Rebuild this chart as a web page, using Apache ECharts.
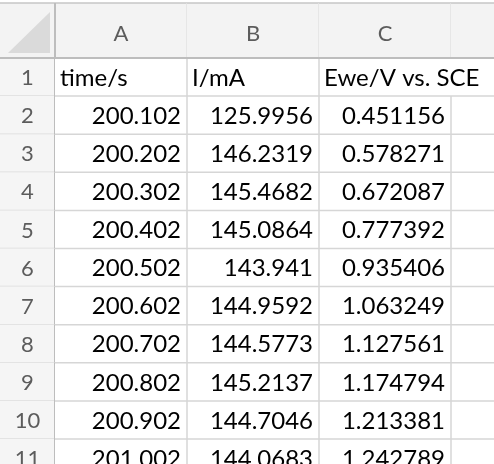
<!DOCTYPE html>
<html>
<head>
<meta charset="utf-8">
<script src="https://cdn.jsdelivr.net/npm/echarts@6/dist/echarts.min.js"></script>
<style>
html, body { margin: 0; padding: 0; background: #fff; }
#sheet { width: 494px; height: 464px; }
</style>
</head>
<body>
<div id="sheet"></div>
<script>
// 列字母、行号
var colLetters = ['A', 'B', 'C', 'D'];
var rowNumbers = ['1', '2', '3', '4', '5', '6', '7', '8', '9', '10', '11'];
// 第1行表头
var headerTexts = ['time/s', 'I/mA', 'Ewe/V vs. SCE'];
// 数据列
var timeS = [200.102, 200.202, 200.302, 200.402, 200.502, 200.602, 200.702, 200.802, 200.902, 201.002];
var currentMA = [125.9956, 146.2319, 145.4682, 145.0864, 143.941, 144.9592, 144.5773, 145.2137, 144.7046, 144.0683];
var eweV = [0.451156, 0.578271, 0.672087, 0.777392, 0.935406, 1.063249, 1.127561, 1.174794, 1.213381, 1.242789];

var cellFont = '24px Lato';
var labelFont = '22px Lato';
var colW = 132, rowH = 38.1, headH = 55, numW = 55, topY = 3;

// 量文字宽度，用来判断文字是否溢出到右边的空单元格
var measureCtx = document.createElement('canvas').getContext('2d');
measureCtx.font = cellFont;

var dataCols = [timeS, currentMA, eweV];
var cellList = [];
for (var r = 0; r < rowNumbers.length; r++) {
    for (var c = 0; c < colLetters.length; c++) {
        var text = '', isNum = false;
        if (r === 0) {
            text = headerTexts[c] || '';
        } else if (c < dataCols.length && dataCols[c][r - 1] !== undefined) {
            text = String(dataCols[c][r - 1]);
            isNum = true;
        }
        cellList.push({ c: c, r: r, text: text, isNum: isNum, hideRight: false });
    }
}
// 左对齐文字溢出时，去掉右边框
cellList.forEach(function (cell, i) {
    if (cell.text && !cell.isNum) {
        var next = cellList[i + 1];
        if (next && next.r === cell.r && !next.text &&
            measureCtx.measureText(cell.text).width + 6 > colW) {
            cell.hideRight = true;
        }
    }
});

function cellBox(api, c, r) {
    var center = api.coord([c, r]);
    var size = api.size([1, 1]);
    return { x: center[0] - size[0] / 2, y: center[1] - size[1] / 2, w: size[0], h: size[1] };
}

// 数据单元格
function renderCell(params, api) {
    var cell = cellList[params.dataIndex];
    var b = cellBox(api, cell.c, cell.r);
    var children = [
        { type: 'rect', shape: { x: b.x, y: b.y, width: b.w, height: b.h }, style: { fill: '#fff' }, z2: 0 },
        { type: 'line', shape: { x1: b.x, y1: b.y + b.h, x2: b.x + b.w, y2: b.y + b.h }, style: { stroke: '#d6d6d6', lineWidth: 1.5 }, z2: 1 }
    ];
    if (!cell.hideRight) {
        children.push({ type: 'line', shape: { x1: b.x + b.w, y1: b.y, x2: b.x + b.w, y2: b.y + b.h }, style: { stroke: '#d6d6d6', lineWidth: 1.5 }, z2: 1 });
    }
    if (cell.text) {
        children.push({
            type: 'text', z2: 5,
            style: {
                text: cell.text,
                x: cell.isNum ? b.x + b.w - 6 : b.x + 5,
                y: b.y + b.h / 2 + 1,
                align: cell.isNum ? 'right' : 'left',
                verticalAlign: 'middle',
                font: cellFont,
                fill: '#000'
            }
        });
    }
    return { type: 'group', children: children };
}

// 行号
function renderRowNum(params, api) {
    var r = api.value(1);
    var b = cellBox(api, 0, r);
    return {
        type: 'group', children: [
            { type: 'rect', shape: { x: b.x, y: b.y, width: b.w, height: b.h }, style: { fill: '#f5f5f5' } },
            { type: 'line', shape: { x1: b.x, y1: b.y + b.h, x2: b.x + b.w, y2: b.y + b.h }, style: { stroke: '#dcdcdc', lineWidth: 1.5 } },
            { type: 'line', shape: { x1: b.x + b.w, y1: b.y, x2: b.x + b.w, y2: b.y + b.h }, style: { stroke: '#bdbdbd', lineWidth: 2 } },
            { type: 'text', style: { text: rowNumbers[r], x: b.x + b.w / 2, y: b.y + b.h / 2 + 1, align: 'center', verticalAlign: 'middle', font: labelFont, fill: '#5c5c5c' } }
        ]
    };
}

// 列字母
function renderColHead(params, api) {
    var c = api.value(0);
    var b = cellBox(api, c, 0);
    return {
        type: 'group', children: [
            { type: 'rect', shape: { x: b.x, y: b.y, width: b.w, height: b.h }, style: { fill: '#f3f3f3' } },
            { type: 'line', shape: { x1: b.x, y1: b.y, x2: b.x + b.w, y2: b.y }, style: { stroke: '#c6c6c6', lineWidth: 1.5 } },
            { type: 'line', shape: { x1: b.x + b.w, y1: b.y, x2: b.x + b.w, y2: b.y + b.h }, style: { stroke: '#e2e2e2', lineWidth: 1.5 } },
            { type: 'line', shape: { x1: b.x, y1: b.y + b.h, x2: b.x + b.w, y2: b.y + b.h }, style: { stroke: '#bdbdbd', lineWidth: 2 } },
            { type: 'text', style: { text: colLetters[c], x: b.x + b.w / 2, y: b.y + b.h / 2 + 3, align: 'center', verticalAlign: 'middle', font: labelFont, fill: '#5c5c5c' } }
        ]
    };
}

// 左上角
function renderCorner(params, api) {
    var b = cellBox(api, 0, 0);
    return {
        type: 'group', children: [
            { type: 'rect', shape: { x: b.x, y: b.y, width: b.w, height: b.h }, style: { fill: '#f3f3f3' } },
            { type: 'line', shape: { x1: b.x, y1: b.y, x2: b.x + b.w, y2: b.y }, style: { stroke: '#c6c6c6', lineWidth: 1.5 } },
            { type: 'polygon', shape: { points: [[b.x + 8, b.y + b.h - 5], [b.x + b.w - 5, b.y + b.h - 5], [b.x + b.w - 5, b.y + 9]] }, style: { fill: '#dadada' } },
            { type: 'line', shape: { x1: b.x + b.w, y1: b.y, x2: b.x + b.w, y2: b.y + b.h }, style: { stroke: '#bdbdbd', lineWidth: 2 } },
            { type: 'line', shape: { x1: b.x, y1: b.y + b.h, x2: b.x + b.w, y2: b.y + b.h }, style: { stroke: '#bdbdbd', lineWidth: 2 } }
        ]
    };
}

// 用数值轴当单元格坐标，窗口外的部分截掉
function cellAxis(idx, visibleCells, inverse) {
    return { type: 'value', gridIndex: idx, min: -0.5, max: -0.5 + visibleCells, inverse: !!inverse, show: false, splitLine: { show: false } };
}

var chart = echarts.init(document.getElementById('sheet'));
var W = chart.getWidth(), H = chart.getHeight();
var visCols = (W - numW) / colW;
var visRows = (H - topY - headH) / rowH;

var option = {
    animation: false,
    grid: [
        { left: numW, top: topY + headH, right: 0, bottom: 0 },
        { left: 0, top: topY + headH, width: numW, bottom: 0 },
        { left: numW, top: topY, right: 0, height: headH },
        { left: 0, top: topY, width: numW, height: headH }
    ],
    xAxis: [
        cellAxis(0, visCols),
        cellAxis(1, 1),
        cellAxis(2, visCols),
        cellAxis(3, 1)
    ],
    yAxis: [
        cellAxis(0, visRows, true),
        cellAxis(1, visRows, true),
        cellAxis(2, 1, true),
        cellAxis(3, 1, true)
    ],
    series: [
        {
            type: 'custom', xAxisIndex: 0, yAxisIndex: 0, clip: true,
            renderItem: renderCell,
            data: cellList.map(function (cell) { return [cell.c, cell.r]; })
        },
        {
            type: 'custom', xAxisIndex: 1, yAxisIndex: 1, clip: true,
            renderItem: renderRowNum,
            data: rowNumbers.map(function (n, i) { return [0, i]; })
        },
        {
            type: 'custom', xAxisIndex: 2, yAxisIndex: 2, z: 3,
            renderItem: renderColHead,
            data: colLetters.map(function (l, i) { return [i, 0]; })
        },
        {
            type: 'custom', xAxisIndex: 3, yAxisIndex: 3, z: 4,
            renderItem: renderCorner,
            data: [[0, 0]]
        }
    ]
};
chart.setOption(option);
</script>
</body>
</html>
